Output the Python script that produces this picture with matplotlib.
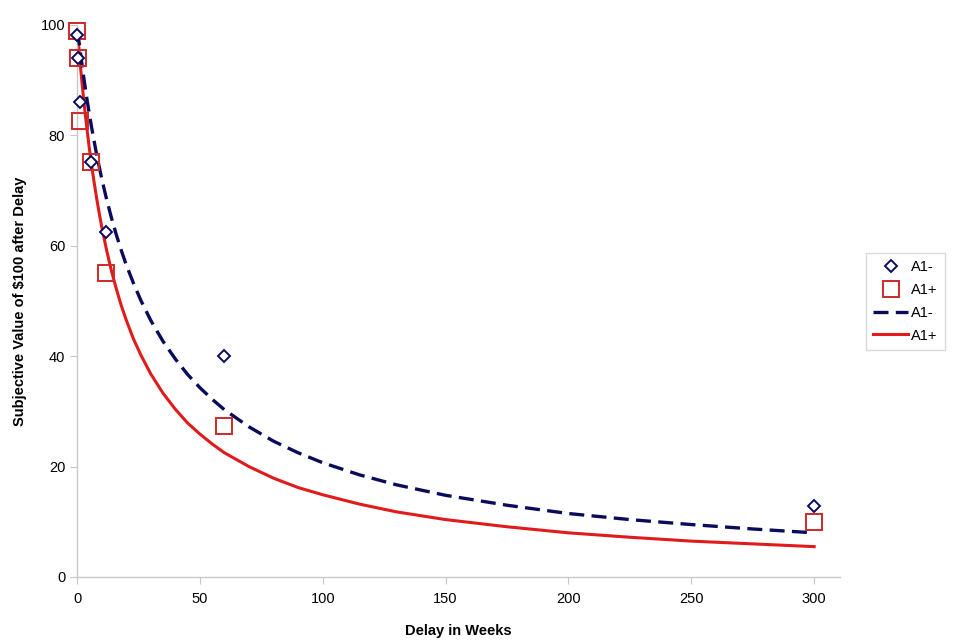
import matplotlib
matplotlib.use("Agg")
import matplotlib.pyplot as plt

plt.rcParams['font.family'] = ['Liberation Sans', 'DejaVu Sans']

# Observed data points
delay_minus = [0, 0.3, 1.2, 5.7, 11.8, 60, 300]
value_minus = [98.2, 94.0, 86.0, 75.2, 62.5, 40.0, 12.9]
delay_plus = [0, 0.3, 1.2, 5.7, 11.8, 60, 300]
value_plus = [99.0, 94.0, 82.6, 75.2, 55.0, 27.4, 10.0]

# Fitted curves
curve_x = [0, 0.5, 1, 1.5, 2, 3, 4, 5, 6, 7, 8, 9, 10, 12, 14, 16, 18, 20, 23, 26,
           30, 35, 40, 45, 50, 55, 60, 70, 80, 90, 100, 115, 130, 150, 175, 200,
           225, 250, 275, 300]
curve_minus = [99.0, 98.1, 96.3, 94.6, 92.9, 89.7, 86.7, 83.9, 81.3, 78.9, 76.5,
               74.4, 72.3, 68.5, 65.1, 62.0, 59.2, 56.6, 53.2, 50.1, 46.5, 42.7,
               39.5, 36.7, 34.3, 32.2, 30.3, 27.2, 24.6, 22.5, 20.7, 18.5, 16.7,
               14.8, 13.0, 11.5, 10.4, 9.5, 8.7, 8.0]
curve_plus = [99.0, 97.2, 94.6, 92.1, 89.7, 85.3, 81.4, 77.7, 74.4, 71.4, 68.6,
              66.0, 63.6, 59.3, 55.5, 52.2, 49.2, 46.6, 43.1, 40.2, 36.8, 33.3,
              30.4, 27.9, 25.9, 24.1, 22.5, 20.0, 17.9, 16.2, 14.9, 13.2, 11.8,
              10.4, 9.1, 8.0, 7.2, 6.5, 6.0, 5.5]

x_ticks = [0, 50, 100, 150, 200, 250, 300]
y_ticks = [0, 20, 40, 60, 80, 100]

navy = '#0b0b5c'
red = '#e11b1b'

fig = plt.figure(figsize=(9.6, 6.44), dpi=100)
ax = fig.add_axes([77/960, 1-577/644, (840-77)/960, (577-25)/644])

m1, = ax.plot(delay_minus, value_minus, linestyle='none', marker='D', markersize=6,
              markerfacecolor='white', markeredgecolor=navy, markeredgewidth=1.4,
              clip_on=False, zorder=5, label='A1-')
m2, = ax.plot(delay_plus, value_plus, linestyle='none', marker='s', markersize=11,
              markerfacecolor='none', markeredgecolor='#cc2a2a', markeredgewidth=1.4,
              clip_on=False, zorder=4, label='A1+')
l1, = ax.plot(curve_x, curve_minus, color=navy, linewidth=2.4, linestyle=(0, (4.5, 2.2)),
              label='A1-', zorder=3)
l2, = ax.plot(curve_x, curve_plus, color=red, linewidth=2.2, linestyle='-',
              label='A1+', zorder=2)

ax.set_xlim(0, 310.5)
ax.set_ylim(0, 100)
ax.set_xticks(x_ticks)
ax.set_yticks(y_ticks)
ax.tick_params(axis='both', colors='#c8c8c8', labelcolor='black', labelsize=10.5,
               direction='out', length=5)
ax.tick_params(axis='x', pad=6)
for s in ['top', 'right']:
    ax.spines[s].set_visible(False)
for s in ['left', 'bottom']:
    ax.spines[s].set_color('#c8c8c8')
    ax.spines[s].set_linewidth(1.0)

ax.set_xlabel('Delay in Weeks', fontsize=10.5, fontweight='bold', labelpad=13)
ax.set_ylabel('Subjective Value of $100 after Delay', fontsize=10.5, fontweight='bold',
              labelpad=10)

leg = fig.legend(handles=[m1, m2, l1, l2], loc='upper left',
                 bbox_to_anchor=(866/960, 1-253/644), frameon=True, fontsize=10.5,
                 handlelength=2.4, borderpad=0.5, labelspacing=0.6, handletextpad=0.2,
                 fancybox=False, borderaxespad=0)
leg.get_frame().set_edgecolor('#d0d0d0')
leg.get_frame().set_linewidth(1.0)

fig.savefig('out.png', dpi=100)
